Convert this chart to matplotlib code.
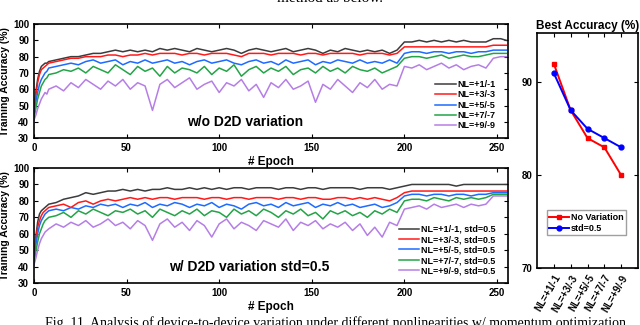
import numpy as np
import matplotlib.pyplot as plt

plt.rcParams['font.family'] = ['Liberation Sans', 'DejaVu Sans']
plt.rcParams['font.weight'] = 'bold'

# epochs at which the curves are sampled
epochs = [0, 1, 2, 3, 4, 5, 6, 7] + list(range(8, 253, 4)) + [255]

nl_labels = ["NL=+1/-1", "NL=+3/-3", "NL=+5/-5", "NL=+7/-7", "NL=+9/-9"]
colors = ["#3c3c3c", "#ff1a1a", "#1e6bff", "#22a447", "#b57ee6"]

# training accuracy w/o D2D variation
acc_nl1 = [43, 58, 66, 71, 74, 75, 76, 76,
           77, 78, 79, 80, 80, 81, 82, 82, 83, 84,
           83, 84, 83, 84, 83, 85, 84, 85, 84, 83,
           85, 84, 83, 84, 85, 84, 82, 84, 85, 84,
           83, 84, 85, 83, 84, 85, 84, 82, 84, 83,
           85, 84, 83, 84, 83, 84, 82, 84, 89, 89,
           90, 89, 90, 89, 90, 89, 90, 89, 89, 89,
           91, 91, 90]
acc_nl3 = [44, 56, 64, 69, 72, 73, 74, 75,
           76, 77, 78, 79, 79, 80, 80, 80, 81, 81,
           80, 81, 81, 82, 81, 82, 82, 82, 81, 82,
           82, 81, 82, 82, 82, 81, 80, 82, 82, 82,
           81, 82, 82, 82, 81, 82, 82, 81, 82, 82,
           82, 82, 81, 82, 82, 82, 81, 82, 86, 86,
           86, 86, 86, 86, 86, 86, 86, 86, 86, 86,
           87, 87, 87]
acc_nl5 = [43, 52, 58, 63, 66, 68, 70, 71,
           73, 74, 75, 76, 75, 77, 78, 76, 77, 78,
           75, 77, 76, 78, 76, 77, 78, 76, 77, 75,
           77, 78, 76, 77, 78, 76, 75, 77, 78, 76,
           77, 75, 78, 76, 77, 78, 75, 77, 76, 78,
           77, 76, 78, 76, 77, 76, 78, 76, 82, 83,
           83, 82, 83, 83, 82, 83, 83, 82, 83, 83,
           84, 84, 84]
acc_nl7 = [42, 48, 54, 58, 62, 64, 66, 67,
           69, 70, 72, 71, 73, 70, 74, 72, 70, 75,
           72, 69, 74, 71, 73, 68, 74, 70, 73, 72,
           70, 74, 69, 73, 71, 75, 68, 72, 74, 70,
           73, 71, 74, 69, 72, 73, 70, 74, 71, 73,
           70, 74, 72, 71, 73, 70, 72, 74, 79, 80,
           80, 79, 80, 81, 79, 80, 81, 80, 80, 81,
           82, 82, 82]
acc_nl9 = [41, 44, 48, 51, 54, 56, 58, 57,
           60, 62, 59, 64, 61, 66, 63, 60, 65, 62,
           66, 60, 64, 62, 47, 63, 66, 61, 64, 67,
           60, 63, 65, 58, 64, 62, 66, 59, 63, 55,
           64, 61, 66, 60, 62, 65, 52, 63, 60, 66,
           62, 58, 64, 61, 66, 60, 63, 62, 74, 73,
           75, 72, 74, 76, 73, 75, 72, 74, 75, 73,
           79, 80, 80]

# training accuracy w/ D2D variation std=0.5
d2d_nl1 = [43, 58, 67, 72, 74, 75, 76, 77,
           78, 79, 81, 82, 83, 85, 84, 85, 86, 86,
           87, 86, 87, 86, 87, 87, 88, 87, 87, 88,
           87, 88, 87, 88, 87, 88, 88, 87, 88, 88,
           88, 87, 88, 88, 87, 88, 88, 87, 88, 88,
           88, 88, 87, 88, 88, 88, 87, 88, 89, 90,
           90, 90, 90, 90, 90, 89, 90, 90, 90, 90,
           90, 90, 90]
d2d_nl3 = [44, 57, 64, 68, 71, 73, 74, 75,
           76, 77, 78, 76, 79, 80, 78, 80, 81, 80,
           81, 82, 81, 82, 81, 82, 82, 81, 82, 82,
           82, 81, 82, 82, 81, 82, 82, 81, 82, 82,
           82, 81, 82, 82, 81, 82, 82, 81, 81, 82,
           82, 81, 82, 81, 82, 81, 80, 82, 85, 86,
           86, 86, 86, 86, 86, 86, 86, 86, 86, 86,
           86, 86, 86]
d2d_nl5 = [43, 53, 60, 65, 68, 70, 72, 73,
           74, 75, 74, 76, 75, 77, 76, 78, 77, 78,
           76, 78, 77, 79, 76, 78, 77, 79, 78, 76,
           78, 77, 79, 76, 78, 77, 75, 78, 79, 77,
           78, 76, 79, 77, 78, 79, 76, 78, 77, 79,
           77, 78, 76, 77, 78, 76, 77, 79, 83, 84,
           84, 83, 84, 84, 83, 84, 84, 83, 84, 84,
           85, 85, 85]
d2d_nl7 = [42, 49, 55, 60, 63, 66, 68, 69,
           70, 71, 73, 70, 74, 72, 75, 73, 71, 74,
           73, 75, 72, 74, 70, 75, 73, 71, 74, 72,
           75, 71, 74, 73, 70, 75, 72, 74, 71, 75,
           73, 70, 74, 72, 75, 71, 73, 69, 74, 72,
           74, 71, 73, 70, 74, 72, 75, 73, 80, 81,
           81, 80, 82, 81, 80, 82, 81, 82, 81, 82,
           84, 84, 84]
d2d_nl9 = [41, 45, 50, 54, 57, 59, 61, 62,
           63, 66, 64, 67, 65, 68, 64, 66, 69, 65,
           67, 63, 68, 65, 56, 66, 69, 64, 67, 62,
           68, 65, 58, 66, 69, 63, 67, 65, 62, 68,
           66, 64, 69, 62, 67, 65, 68, 63, 66, 64,
           67, 62, 66, 59, 64, 58, 67, 65, 75, 76,
           77, 75, 78, 76, 77, 78, 76, 78, 77, 78,
           83, 83, 83]

# best accuracy summary
best_no_var = [92, 87, 84, 83, 80]
best_std05 = [91, 87, 85, 84, 83]
best_ticks = ["NL=+1/-1", "NL=+3/-3", "NL=+5/-5", "NL=+7/-7", "NL=+9/-9"]


def style_axis(ax):
    ax.tick_params(direction='in', top=True, right=True, labelsize=7, length=3, width=0.8)
    for s in ax.spines.values():
        s.set_linewidth(1.2)
    for lab in ax.get_xticklabels() + ax.get_yticklabels():
        lab.set_fontweight('bold')


fig = plt.figure(figsize=(6.4, 3.25), dpi=100)

panels = [
    ([acc_nl1, acc_nl3, acc_nl5, acc_nl7, acc_nl9], "", "w/o D2D variation",
     [0.053, 0.575, 0.741, 0.351], (0.445, 0.14), (0.985, 0.02)),
    ([d2d_nl1, d2d_nl3, d2d_nl5, d2d_nl7, d2d_nl9], ", std=0.5", "w/ D2D variation std=0.5",
     [0.053, 0.129, 0.741, 0.354], (0.455, 0.14), (0.985, 0.02)),
]

for series, suffix, note, rect, note_pos, leg_pos in panels:
    ax = fig.add_axes(rect)
    for vals, lab, c in zip(series, nl_labels, colors):
        ax.plot(epochs, vals, color=c, lw=1.1, label=lab + suffix)
    ax.set_xlim(0, 256)
    ax.set_ylim(30, 100)
    ax.set_xticks([0, 50, 100, 150, 200, 250])
    ax.set_yticks(range(30, 101, 10))
    ax.set_xlabel("# Epoch", fontsize=8.5, fontweight='bold', labelpad=2)
    ax.set_ylabel("Training Accuracy (%)", fontsize=7.5, fontweight='bold', labelpad=2)
    ax.text(note_pos[0], note_pos[1], note, transform=ax.transAxes, fontsize=10,
            fontweight='bold', ha='center', va='center')
    leg = ax.legend(loc='lower right', bbox_to_anchor=leg_pos, frameon=False,
                    fontsize=6.5, handlelength=2.3, handletextpad=0.2,
                    labelspacing=0.15, borderaxespad=0.2)
    for t in leg.get_texts():
        t.set_fontweight('bold')
    style_axis(ax)

# right panel
ax3 = fig.add_axes([0.839, 0.175, 0.158, 0.723])
x = np.arange(len(best_ticks))
ax3.plot(x, best_no_var, color='#ff0000', lw=1.4, marker='s', ms=3.5, label="No Variation")
ax3.plot(x, best_std05, color='#0000ff', lw=1.4, marker='o', ms=3.5, label="std=0.5")
ax3.set_xlim(-1, 5)
ax3.set_ylim(70, 95.3)
ax3.set_yticks([70, 80, 90])
ax3.set_xticks(x)
ax3.set_xticklabels(best_ticks, rotation=60, ha='right', rotation_mode='anchor', fontsize=6.5)
ax3.set_title("Best Accuracy (%)", fontsize=8.5, fontweight='bold', pad=3)
leg3 = ax3.legend(loc='lower left', bbox_to_anchor=(0.05, 0.12), fontsize=6.5,
                  handlelength=2.2, handletextpad=0.2, labelspacing=0.2,
                  borderpad=0.3, fancybox=False, edgecolor='#888888')
for t in leg3.get_texts():
    t.set_fontweight('bold')
style_axis(ax3)

# surrounding paper text (cropped at the edges, as in the page scan)
fig.text(0.515, 1.005, "method as below.", fontsize=11, family='Liberation Serif',
         fontweight='normal', ha='center', va='center')
fig.text(0.07, 0.028, "Fig. 11. Analysis of device-to-device variation under different nonlinearities w/ momentum optimization.",
         fontsize=10, family='Liberation Serif', fontweight='normal', ha='left', va='top')

fig.savefig("out.png", dpi=100)
